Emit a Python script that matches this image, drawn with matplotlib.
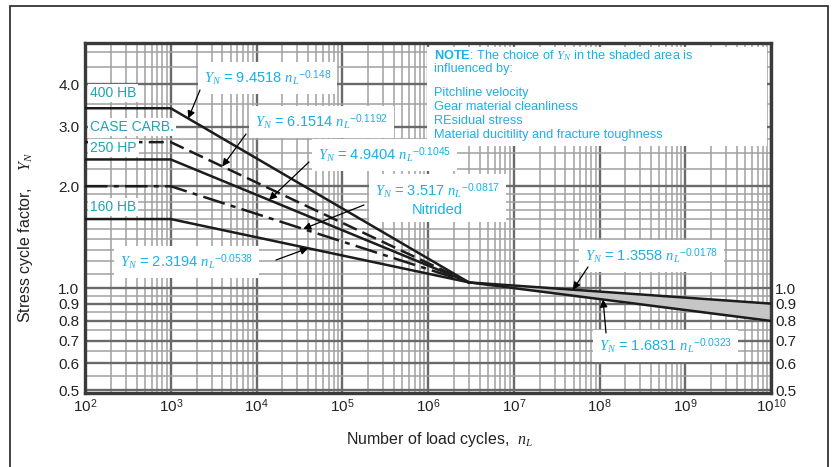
import matplotlib
matplotlib.use("Agg")
import matplotlib.pyplot as plt
import numpy as np
from matplotlib.patches import Rectangle
from matplotlib.ticker import FixedLocator, LogLocator, NullFormatter, NullLocator

# load cycles where the curves change slope
n_points = [1e2, 1e3, 3e6]
n_tail = [3e6, 1e10]

hb400 = [3.40, 3.40, 1.04]
case_carb = [2.70, 2.70, 1.04]
hp250 = [2.40, 2.40, 1.04]
nitrided = [2.00, 2.00, 1.04]
hb160 = [1.60, 1.60, 1.04]
tail_upper = [1.04, 0.90]
tail_lower = [1.04, 0.80]

x_decades = [2, 3, 4, 5, 6, 7, 8, 9, 10]
y_ticks_left = [0.5, 0.6, 0.7, 0.8, 0.9, 1.0, 2.0, 3.0, 4.0]
y_ticks_right = [0.5, 0.6, 0.7, 0.8, 0.9, 1.0]
y_minor = [0.55, 0.65, 0.75, 0.85, 0.95, 1.1, 1.2, 1.3, 1.4, 1.5, 1.6, 1.7, 1.8, 1.9,
           2.25, 2.5, 2.75, 3.5, 4.5, 5.0]

TEAL = "#1fa3b4"
CYAN = "#1ab0e8"
INK = "#1c1c1c"

plt.rcParams.update({
    "font.family": "Liberation Sans",
    "mathtext.fontset": "custom",
    "mathtext.rm": "Liberation Sans",
    "mathtext.it": "Liberation Serif:italic",
    "mathtext.bf": "Liberation Sans:bold",
})

W, H = 833, 467
AX_L, AX_R, AX_T, AX_B = 85, 771, 43, 393


def px(x, y):
    """Pixel position in the picture -> axes fraction."""
    return (x - AX_L) / (AX_R - AX_L), (AX_B - y) / (AX_B - AX_T)


def on_line(xs, ys, x):
    return 10 ** np.interp(np.log10(x), np.log10(xs), np.log10(ys))


fig = plt.figure(figsize=(W / 100, H / 100), dpi=100)
ax = fig.add_axes([AX_L / W, 1 - AX_B / H, (AX_R - AX_L) / W, (AX_B - AX_T) / H])
ax.set_xscale("log")
ax.set_yscale("log")
ax.set_xlim(1e2, 1e10)
ax.set_ylim(0.49, 5.3)

# grid
ax.xaxis.set_major_locator(FixedLocator([10.0 ** k for k in x_decades]))
ax.xaxis.set_minor_locator(LogLocator(base=10, subs=np.arange(2, 10), numticks=100))
ax.xaxis.set_minor_formatter(NullFormatter())
ax.set_xticklabels([rf"$10^{{{k}}}$" for k in x_decades])
ax.yaxis.set_major_locator(FixedLocator(y_ticks_left))
ax.yaxis.set_minor_locator(FixedLocator(y_minor))
ax.yaxis.set_minor_formatter(NullFormatter())
ax.set_yticklabels([f"{v:.1f}" for v in y_ticks_left])
ax.grid(True, which="major", color="#6a6a6a", lw=1.7)
ax.grid(True, which="minor", color="#a0a0a0", lw=1.1)
ax.set_axisbelow(True)
ax.tick_params(which="both", length=0, labelsize=11, colors="#222222")
ax.tick_params(axis="y", pad=4)
ax.tick_params(axis="x", pad=3)
for s in ax.spines.values():
    s.set_linewidth(2.4)
    s.set_color("#3a3a3a")

# curves
ax.plot(n_points, hb400, color=INK, lw=1.8, zorder=3)
ax.plot(n_points, case_carb, color=INK, lw=1.8, ls=(0, (6, 2.5)), zorder=3)
ax.plot(n_points, hp250, color=INK, lw=1.8, zorder=3)
ax.plot(n_points, nitrided, color=INK, lw=1.8, ls=(0, (9, 2.5, 2, 2.5)), zorder=3)
ax.plot(n_points, hb160, color=INK, lw=1.8, zorder=3)
ax.fill_between(n_tail, tail_lower, tail_upper, color="#c6c6c6", zorder=2.5)
ax.plot(n_tail, tail_upper, color=INK, lw=1.8, zorder=3)
ax.plot(n_tail, tail_lower, color=INK, lw=1.8, zorder=3)

# material labels
for text, y in [("400 HB", 93), ("CASE CARB.", 127), ("250 HP", 148), ("160 HB", 207)]:
    ax.text(*px(90, y), text, transform=ax.transAxes, color=TEAL, fontsize=10,
            ha="left", va="center", zorder=5,
            bbox=dict(facecolor="white", edgecolor="none", pad=1.5))

box = dict(facecolor="white", edgecolor="none", pad=4)
equations = [
    (r"$Y_N$ = 9.4518 $n_L{}^{-0.148}$", 204, 78),
    (r"$Y_N$ = 6.1514 $n_L{}^{-0.1192}$", 255, 122),
    (r"$Y_N$ = 4.9404 $n_L{}^{-0.1045}$", 318, 155),
    (r"$Y_N$ = 3.517 $n_L{}^{-0.0817}$" + "\nNitrided", 375, 199),
    (r"$Y_N$ = 2.3194 $n_L{}^{-0.0538}$", 120, 262),
    (r"$Y_N$ = 1.3558 $n_L{}^{-0.0178}$", 585, 256),
    (r"$Y_N$ = 1.6831 $n_L{}^{-0.0323}$", 599, 346),
]
for text, x, y in equations:
    ax.text(*px(x, y), text, transform=ax.transAxes, color=CYAN, fontsize=10.5,
            ha="left", va="center", multialignment="center", linespacing=1.1,
            zorder=5, bbox=box)

# leader arrows: (start pixel, curve, n at the tip)
arrows = [
    ((200, 90), hb400, 1.6e3, n_points),
    ((246, 134), case_carb, 4.0e3, n_points),
    ((309, 162), hp250, 1.4e4, n_points),
    ((364, 205), nitrided, 3.5e4, n_points),
    ((276, 260), hb160, 4.0e4, n_points),
    ((588, 267), tail_upper, 4.9e7, n_tail),
    ((606, 333), tail_lower, 1.1e8, n_tail),
]
for start, ys, n, xs in arrows:
    ax.annotate("", xy=(n, on_line(xs, ys, n)), xytext=px(*start),
                textcoords="axes fraction",
                arrowprops=dict(arrowstyle="-|>", color="black", lw=0.9,
                                mutation_scale=11, shrinkA=0, shrinkB=0),
                zorder=6)

# note box
x0, y0 = px(427, 146)
x1, y1 = px(767, 47)
ax.add_patch(Rectangle((x0, y0), x1 - x0, y1 - y0, transform=ax.transAxes,
                       facecolor="white", edgecolor="none", zorder=5))
note_lines = [
    (r"$\mathbf{NOTE}$: The choice of $Y_N$ in the shaded area is", 56),
    ("influenced by:", 69),
    ("Pitchline velocity", 93),
    ("Gear material cleanliness", 107),
    ("REsidual stress", 121),
    ("Material ducitility and fracture toughness", 135),
]
for text, y in note_lines:
    ax.text(*px(434, y), text, transform=ax.transAxes, color=CYAN, fontsize=9.2,
            ha="left", va="center", zorder=6)

# right-hand labels
ax2 = ax.twinx()
ax2.set_yscale("log")
ax2.set_ylim(ax.get_ylim())
ax2.yaxis.set_major_locator(FixedLocator(y_ticks_right))
ax2.yaxis.set_minor_locator(NullLocator())
ax2.set_yticklabels([f"{v:.1f}" for v in y_ticks_right])
ax2.tick_params(length=0, labelsize=11, pad=3, colors="#222222")
for s in ax2.spines.values():
    s.set_visible(False)

ax.set_xlabel(r"Number of load cycles,  $n_L$", fontsize=11.5, color="#222222")
ax.xaxis.set_label_coords(*px(440, 430))
ax.set_ylabel(r"Stress cycle factor,    $Y_N$", fontsize=11.5, color="#222222")
ax.yaxis.set_label_coords(*px(35, 237))

# outer frame
fig.add_artist(Rectangle((10 / W, -0.05), (828 - 10) / W, (1 - 6 / H) + 0.05,
                         transform=fig.transFigure, fill=False, lw=1.2,
                         edgecolor="#222222"))

fig.savefig("out.png", dpi=100)
